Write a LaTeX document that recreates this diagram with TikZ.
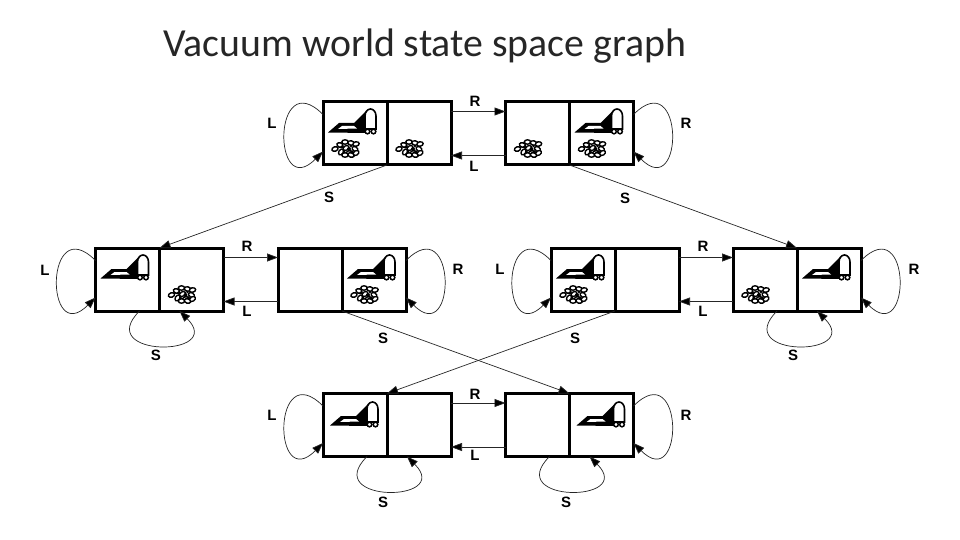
\documentclass[tikz,border=0pt]{standalone}
\usepackage{fontspec}
\setmainfont{Liberation Sans}
\newfontfamily\titlefont{Carlito}
\usetikzlibrary{arrows.meta}

\tikzset{
  room/.style={
    draw=black,
    line width=3pt,
    minimum width=64pt,
    minimum height=63pt,
    outer sep=0pt,
    inner sep=0pt
  },
  arc/.style={
    draw=black!85,
    line width=0.7pt,
    -{Triangle[length=11pt,width=8pt,fill=black]}
  },
  act label/.style={
    font=\fontsize{15}{15}\selectfont\bfseries,
    inner sep=0pt
  },
  left loop/.style={out=135,in=225,distance=72pt},
  right loop/.style={out=45,in=-45,distance=72pt},
  down loop/.style={out=225,in=-45,distance=66pt},
  vacuum/.pic={
    \fill[black] (5,30.5) -- (16,21) -- (31,21) -- (43,9) -- (44,31) -- cycle;
    \fill[white] (15,27) -- (19,24) -- (31,24) -- (34,26.5) -- cycle;
    \draw[fill=white,line width=1.6pt] (42,27) -- (42,14) arc[start angle=180,end angle=360,x radius=5.5,y radius=7] -- (53,27) -- cycle;
    \draw[fill=white,line width=1.5pt] (44.5,29.5) circle (2.3);
    \draw[fill=white,line width=1.5pt] (50.5,29.5) circle (2.3);
  },
  dirt/.pic={
    \foreach \dx/\dy/\rot in {-11/1/20,-6/-3/-20,-1/-6/0,-5/4/60,0/0/30,5/-5/-10,10/-4/10,9/1/-30,3/5/20,-1/7/0,10/5/30,5/7/-20}
      \draw[shift={(\dx,\dy)},rotate=\rot,fill=white,line width=1.4pt] (0,0) ellipse (3.2 and 2.2);
    \fill[black] (-4,-1) circle (1.8) (3,1) circle (2) (6,4) circle (1.8) (-2,4) circle (1.5) (5,-2) circle (1.4);
  }
}

\begin{document}
\begin{tikzpicture}[x=1pt,y=-1pt]
  \useasboundingbox (0,0) rectangle (960,540);

  % title
  \node[anchor=base west,inner sep=0pt,text=black!85,font=\titlefont\fontsize{39.8}{40}\selectfont] (title) at (163,57) {Vacuum world state space graph};

  % states
  \foreach \name/\x/\y in {s1/387/133.5,s2/569.5/133.5,s3/159.5/279.5,s4/342/279.5,s5/615/279.5,s6/797/279.5,s7/387/425,s8/569.5/425} {
    \node[room,anchor=east] (\name l) at (\x,\y) {};
    \node[room,anchor=west] (\name r) at (\x,\y) {};
  }

  % vacuums
  \foreach \room in {s1l,s2r,s3l,s4r,s5l,s6r}
    \pic at (\room.north west) {vacuum};
  \foreach \room in {s7l,s8r}
    \pic at ([xshift=2pt,yshift=-1.5pt]\room.north west) {vacuum};

  % dirt
  \foreach \room in {s1l,s1r,s2l,s2r,s3r,s4r,s5l,s6l}
    \pic at ([xshift=23pt,yshift=-46pt]\room.north west) {dirt};

  % moves
  \foreach \a/\b in {s1/s2,s3/s4,s5/s6,s7/s8} {
    \draw[arc] ([yshift=22pt]\a r.east) -- ([yshift=22pt]\b l.west);
    \draw[arc] ([yshift=-22pt]\b l.west) -- ([yshift=-22pt]\a r.east);
  }

  % sucking
  \draw[arc] (s1l.south east) -- (s3l.north east);
  \draw[arc] (s2l.south east) -- (s6l.north east);
  \draw[arc] (s4l.south east) -- (s8l.north east);
  \draw[arc] (s5l.south east) -- (s7l.north east);

  % self loops
  \foreach \room in {s1l,s3l,s5l,s7l}
    \draw[arc] ([yshift=19pt]\room.west) to[left loop] ([yshift=-18pt]\room.west);
  \foreach \room in {s2r,s4r,s6r,s8r}
    \draw[arc] ([yshift=19pt]\room.east) to[right loop] ([yshift=-18pt]\room.east);
  \foreach \room in {s3l,s6l,s7l,s8l}
    \draw[arc] ([xshift=-20pt]\room.south east) to[down loop] ([xshift=20pt]\room.south east);

  % labels
  \foreach \t/\x/\y [count=\i] in {L/272/123,R/475/101,L/474/166,R/686/123,S/329/197,S/625/198,
      L/45/270,R/247/246,L/247/311,R/458/269,S/156/355,S/383/338,
      L/500/269,R/703/246,L/703/311,R/914/269,S/793/355,S/575/338,
      L/272/415,R/475/394,L/475/455,R/686/415,S/383/502,S/566/502}
    \node[act label] (lab\i) at (\x,\y) {\t};
\end{tikzpicture}
\end{document}
